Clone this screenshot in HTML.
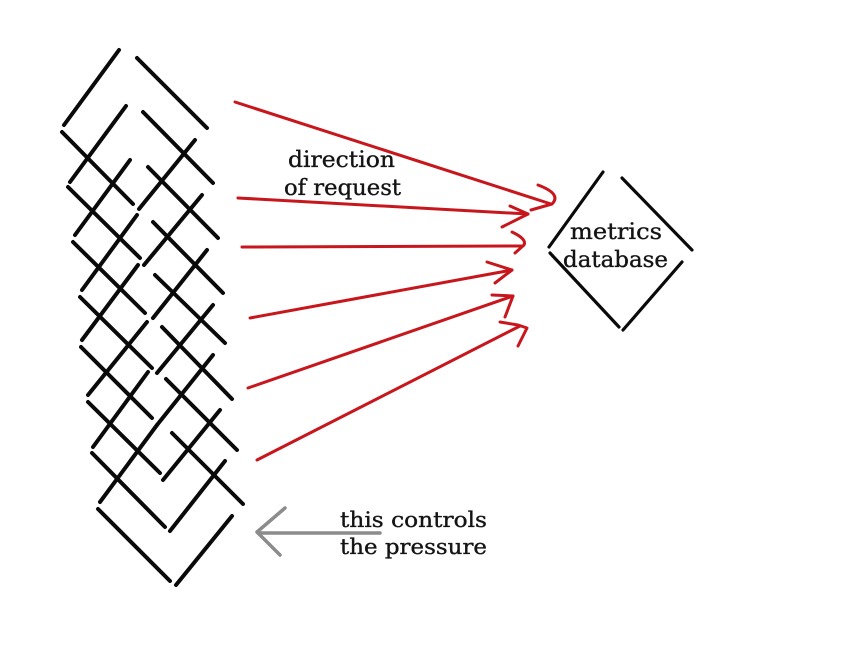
<!DOCTYPE html>
<html>
<head>
<meta charset="utf-8">
<style>
  html, body { margin: 0; padding: 0; background: #ffffff; }
  body { width: 844px; height: 660px; overflow: hidden; }
  svg { display: block; }
  .lat { stroke: #0a0a0a; stroke-width: 4; stroke-linecap: round; fill: none; }
  .dia { stroke: #0a0a0a; stroke-width: 3.2; stroke-linecap: round; fill: none; }
  .red { stroke: #c8161d; stroke-width: 3; stroke-linecap: round; stroke-linejoin: round; fill: none; }
  .gray { stroke: #8c8c8c; stroke-width: 3.5; stroke-linecap: round; stroke-linejoin: round; fill: none; }
  .t { font-family: "DejaVu Serif", "Liberation Serif", serif; fill: #141414; stroke: #141414; stroke-width: 0.35; }
</style>
</head>
<body>
<svg width="844" height="660" viewBox="0 0 844 660" xmlns="http://www.w3.org/2000/svg">
  <rect x="0" y="0" width="844" height="660" fill="#ffffff"/>

  <g class="lat">
    <line x1="119" y1="50" x2="64" y2="125"/>
    <line x1="126" y1="106" x2="70" y2="182"/>
    <line x1="130" y1="160" x2="75" y2="235"/>
    <line x1="137" y1="215" x2="82" y2="290"/>
    <line x1="138" y1="265" x2="82" y2="340"/>
    <line x1="147" y1="322" x2="88" y2="395"/>
    <line x1="148" y1="372" x2="93" y2="447"/>
    <line x1="157" y1="425" x2="100" y2="502"/>

    <line x1="62" y1="132" x2="133" y2="204"/>
    <line x1="68" y1="187" x2="140" y2="258"/>
    <line x1="73" y1="242" x2="145" y2="313"/>
    <line x1="80" y1="297" x2="152" y2="368"/>
    <line x1="81" y1="347" x2="152" y2="418"/>
    <line x1="88" y1="402" x2="160" y2="473"/>
    <line x1="92" y1="453" x2="165" y2="527"/>
    <line x1="98" y1="509" x2="170" y2="581"/>

    <line x1="137" y1="58" x2="207" y2="128"/>
    <line x1="143" y1="112" x2="213" y2="183"/>
    <line x1="148" y1="167" x2="218" y2="238"/>
    <line x1="153" y1="222" x2="223" y2="293"/>
    <line x1="155" y1="275" x2="225" y2="343"/>
    <line x1="162" y1="327" x2="232" y2="399"/>
    <line x1="166" y1="379" x2="237" y2="450"/>
    <line x1="172" y1="433" x2="243" y2="504"/>

    <line x1="195" y1="140" x2="139" y2="209"/>
    <line x1="202" y1="195" x2="144" y2="265"/>
    <line x1="207" y1="250" x2="153" y2="318"/>
    <line x1="213" y1="305" x2="157" y2="373"/>
    <line x1="213" y1="355" x2="157" y2="425"/>
    <line x1="220" y1="410" x2="163" y2="480"/>
    <line x1="225" y1="461" x2="170" y2="531"/>
    <line x1="232" y1="516" x2="176" y2="585"/>
  </g>

  <g class="red">
    <line x1="235" y1="102" x2="551" y2="204"/>
    <path d="M538,185 Q562,194 552,204 L531,210"/>
    <line x1="238" y1="198" x2="528" y2="214"/>
    <path d="M510,206 L528,214 L502,227"/>
    <line x1="242" y1="247" x2="522" y2="246"/>
    <path d="M512,232 Q527,239 524,245 L515,253"/>
    <line x1="250" y1="318" x2="512" y2="270"/>
    <path d="M487,262 L512,270 L495,283"/>
    <line x1="248" y1="388" x2="513" y2="296"/>
    <path d="M492,295 L513,296 L505,317"/>
    <line x1="257" y1="460" x2="520" y2="326"/>
    <path d="M500,322 L518,325 L527,328 L518,346"/>
  </g>

  <g class="dia">
    <line x1="603" y1="172" x2="549" y2="247"/>
    <line x1="550" y1="253" x2="619" y2="327"/>
    <line x1="622" y1="178" x2="692" y2="250"/>
    <line x1="682" y1="262" x2="623" y2="330"/>
  </g>

  <g class="gray">
    <line x1="380" y1="533" x2="258" y2="533"/>
    <path d="M285,508 L257,532 L280,555"/>
  </g>

  <text class="t" x="288" y="167" font-size="22" textLength="107" lengthAdjust="spacingAndGlyphs">direction</text>
  <text class="t" x="284" y="195" font-size="22" textLength="117" lengthAdjust="spacingAndGlyphs">of request</text>
  <text class="t" x="570" y="239" font-size="22" textLength="92" lengthAdjust="spacingAndGlyphs">metrics</text>
  <text class="t" x="563" y="267" font-size="22" textLength="105" lengthAdjust="spacingAndGlyphs">database</text>
  <text class="t" x="340" y="527" font-size="21" textLength="147" lengthAdjust="spacingAndGlyphs">this controls</text>
  <text class="t" x="340" y="554" font-size="21" textLength="147" lengthAdjust="spacingAndGlyphs">the pressure</text>
</svg>
</body>
</html>
